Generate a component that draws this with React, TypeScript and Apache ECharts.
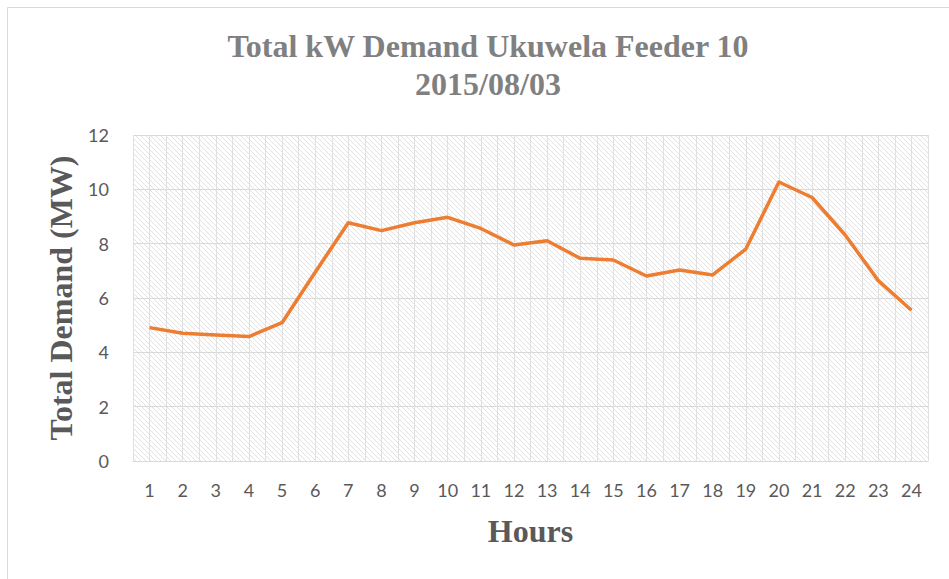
import React, { useEffect, useRef } from "react";
import * as echarts from "echarts";

const hours: string[] = ["1","2","3","4","5","6","7","8","9","10","11","12","13","14","15","16","17","18","19","20","21","22","23","24"];
const demandMW: number[] = [4.91, 4.70, 4.64, 4.58, 5.09, 6.95, 8.77, 8.48, 8.77, 8.97, 8.56, 7.95, 8.11, 7.46, 7.40, 6.81, 7.03, 6.85, 7.80, 10.27, 9.70, 8.32, 6.64, 5.55];
const halfSlots: string[] = hours.flatMap((h) => [h + "a", h + "b"]);
const titleLines: string[] = ["Total kW Demand Ukuwela Feeder 10", "2015/08/03"];

function makeHatch(): HTMLCanvasElement {
  const c = document.createElement("canvas");
  c.width = 5;
  c.height = 5;
  const ctx = c.getContext("2d")!;
  ctx.fillStyle = "#ffffff";
  ctx.fillRect(0, 0, 5, 5);
  ctx.fillStyle = "#e2e2e2";
  for (let i = 0; i < 5; i++) ctx.fillRect(i, i, 1, 1);
  return c;
}

export default function App() {
  const ref = useRef<HTMLDivElement>(null);
  useEffect(() => {
    if (!ref.current) return;
    const chart = echarts.init(ref.current, null, { renderer: "svg" });
    const hatch = makeHatch();
    chart.setOption({
      animation: false,
      title: {
        text: titleLines.join("\n"),
        left: 483,
        textAlign: "center",
        top: 22,
        textStyle: {
          fontFamily: "'Liberation Serif', 'Times New Roman', serif",
          fontWeight: "bold",
          fontSize: 32,
          lineHeight: 38,
          color: "#808080",
        },
      },
      graphic: [
        {
          type: "rect",
          shape: { x: 7.5, y: 7.5, width: 980, height: 620 },
          style: { fill: "none", stroke: "#d9d9d9", lineWidth: 1 },
          silent: true,
        },
      ],
      grid: {
        left: 133,
        right: 21,
        top: 135,
        bottom: 118,
        show: true,
        borderWidth: 0,
        backgroundColor: { image: hatch, repeat: "repeat", imageWidth: 5, imageHeight: 5 },
      },
      xAxis: [
        {
          type: "category",
          data: hours,
          boundaryGap: true,
          name: "Hours",
          nameLocation: "middle",
          nameGap: 54,
          nameTextStyle: {
            fontFamily: "'Liberation Serif', 'Times New Roman', serif",
            fontWeight: "bold",
            fontSize: 32,
            color: "#595959",
          },
          axisLine: { show: true, lineStyle: { color: "#d9d9d9", width: 1 } },
          axisTick: { show: false },
          axisLabel: { color: "#595959", fontSize: 18, fontFamily: "Lato, 'Open Sans', sans-serif", margin: 20, interval: 0 },
          splitLine: { show: false },
        },
        {
          type: "category",
          data: halfSlots,
          boundaryGap: true,
          axisLine: { show: false },
          axisTick: { show: false, interval: 0 },
          axisLabel: { show: false, interval: 0 },
          splitLine: { show: true, interval: 0, lineStyle: { color: "#e0e0e0", width: 1 } },
        },
      ],
      yAxis: {
        type: "value",
        min: 0,
        max: 12,
        interval: 2,
        name: "Total Demand (MW)",
        nameLocation: "middle",
        nameGap: 56,
        nameTextStyle: {
          fontFamily: "'Liberation Serif', 'Times New Roman', serif",
          fontWeight: "bold",
          fontSize: 32,
          color: "#595959",
        },
        axisLine: { show: false },
        axisTick: { show: false },
        axisLabel: { color: "#595959", fontSize: 18, fontFamily: "Lato, 'Open Sans', sans-serif", margin: 24 },
        splitLine: { show: true, lineStyle: { color: "#d9d9d9", width: 1 } },
      },
      series: [
        {
          type: "line",
          xAxisIndex: 0,
          data: demandMW,
          symbol: "none",
          lineStyle: { color: "#ED7D31", width: 3.5, join: "round" },
          itemStyle: { color: "#ED7D31" },
          z: 5,
        },
      ],
    });
    return () => chart.dispose();
  }, []);
  return <div ref={ref} style={{ position: "absolute", left: 0, top: 0, width: 949, height: 579 }} />;
}
